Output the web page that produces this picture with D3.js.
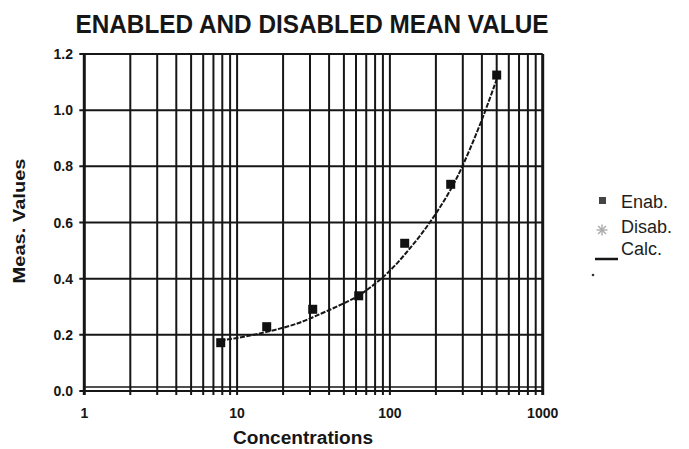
<!DOCTYPE html>
<html><head><meta charset="utf-8">
<script src="https://cdn.jsdelivr.net/npm/d3@7"></script>
<style>body{margin:0;background:#fff}svg{display:block}</style>
</head><body><svg id="c" width="689" height="449"></svg>
<script>
const enabConc = [7.8125, 15.625, 31.25, 62.5, 125, 250, 500];
const enabVals = [0.172, 0.229, 0.291, 0.339, 0.526, 0.736, 1.125];
const calcConc = [7.8, 10, 12.5, 15.6, 20, 25, 31.25, 40, 50, 62.5, 80, 100, 125, 160, 200, 250, 300, 400, 500];
const calcVals = [0.18, 0.188, 0.199, 0.21, 0.225, 0.24, 0.262, 0.288, 0.312, 0.338, 0.381, 0.426, 0.485, 0.556, 0.63, 0.715, 0.8, 0.962, 1.11];
const yTicks = [0, 0.2, 0.4, 0.6, 0.8, 1.0, 1.2];
const xLabelTicks = [1, 10, 100, 1000];
const legendLabels = ["Enab.", "Disab.", "Calc."];

const svg = d3.select("#c");
const x = d3.scaleLog().domain([1, 1000]).range([84.3, 542.7]);
const y = d3.scaleLinear().domain([0, 1.2]).range([391, 54]);
const ink = "#161616";

// vertical grid (1..9 per decade)
const vTicks = [];
for (let d = 1; d < 1000; d *= 10) for (let k = 1; k < 10; k++) vTicks.push(d * k);
vTicks.push(1000);
svg.append("g").selectAll("line").data(vTicks).join("line")
  .attr("x1", d => x(d)).attr("x2", d => x(d))
  .attr("y1", y(1.2)).attr("y2", y(0) + 4)
  .attr("stroke", ink).attr("stroke-width", d => (d === 1 || d === 1000) ? 3 : 2);

// horizontal grid
svg.append("g").selectAll("line").data(yTicks).join("line")
  .attr("x1", x(1) - 5).attr("x2", x(1000))
  .attr("y1", d => y(d)).attr("y2", d => y(d))
  .attr("stroke", ink).attr("stroke-width", 2);
svg.append("line").attr("x1", x(1)).attr("x2", x(1000))
  .attr("y1", y(0) - 4).attr("y2", y(0) - 4).attr("stroke", ink).attr("stroke-width", 1.6);

// y tick labels
svg.append("g").selectAll("text").data(yTicks).join("text")
  .attr("x", 73).attr("y", d => y(d) + 5).attr("text-anchor", "end")
  .attr("font-family", "Liberation Sans Narrow, Liberation Sans, Arial, sans-serif")
  .attr("font-weight", "bold").attr("font-size", 14).attr("fill", ink)
  .text(d => d3.format(".1f")(d));

// x tick labels
svg.append("g").selectAll("text").data(xLabelTicks).join("text")
  .attr("x", d => x(d)).attr("y", 418).attr("text-anchor", "middle")
  .attr("font-family", "Liberation Sans Narrow, Liberation Sans, Arial, sans-serif")
  .attr("font-weight", "bold").attr("font-size", 14).attr("fill", ink)
  .text(d => d);

// calc curve
svg.append("path").datum(calcConc.map((c, i) => [c, calcVals[i]]))
  .attr("d", d3.line().x(d => x(d[0])).y(d => y(d[1])).curve(d3.curveBasis))
  .attr("fill", "none").attr("stroke", ink).attr("stroke-width", 2)
  .attr("stroke-dasharray", "5,1.5");

// enab points
svg.append("g").selectAll("rect").data(enabConc.map((c, i) => [c, enabVals[i]])).join("rect")
  .attr("x", d => x(d[0]) - 4.5).attr("y", d => y(d[1]) - 4.5)
  .attr("width", 9).attr("height", 9).attr("fill", "#111");

// title
svg.append("text").attr("x", 312).attr("y", 33).attr("text-anchor", "middle")
  .attr("font-family", "Liberation Sans, Arial, sans-serif").attr("font-size", 26)
  .attr("font-weight", "bold")
  .attr("fill", ink).attr("textLength", 473).attr("lengthAdjust", "spacingAndGlyphs")
  .text("ENABLED AND DISABLED MEAN VALUE");

// axis titles
svg.append("text").attr("x", 303).attr("y", 444).attr("text-anchor", "middle")
  .attr("font-family", "Liberation Sans, Arial, sans-serif").attr("font-size", 18)
  .attr("font-weight", "bold").attr("fill", ink)
  .attr("textLength", 140).attr("lengthAdjust", "spacingAndGlyphs")
  .text("Concentrations");
svg.append("text").attr("transform", "translate(25,221) rotate(-90)").attr("text-anchor", "middle")
  .attr("font-family", "Liberation Sans, Arial, sans-serif").attr("font-size", 16)
  .attr("font-weight", "bold").attr("fill", ink)
  .attr("textLength", 125).attr("lengthAdjust", "spacingAndGlyphs")
  .text("Meas. Values");

// legend
const lg = svg.append("g");
const legY = [208, 233, 255];
lg.selectAll("text").data(legendLabels).join("text")
  .attr("x", 621).attr("y", (d, i) => legY[i])
  .attr("font-family", "Liberation Sans, Arial, sans-serif").attr("font-size", 18)
  .attr("fill", "#1e1e1e").text(d => d);
lg.append("rect").attr("x", 599).attr("y", 197).attr("width", 7).attr("height", 7).attr("fill", "#444");
const ast = lg.append("g").attr("transform", "translate(602,230)").attr("stroke", "#aaa").attr("stroke-width", 1.4);
[0, 45, 90, 135].forEach(a => {
  const r = a * Math.PI / 180;
  ast.append("line").attr("x1", -5.5 * Math.cos(r)).attr("y1", -5.5 * Math.sin(r))
    .attr("x2", 5.5 * Math.cos(r)).attr("y2", 5.5 * Math.sin(r));
});
lg.append("line").attr("x1", 595).attr("x2", 618).attr("y1", 259).attr("y2", 259)
  .attr("stroke", ink).attr("stroke-width", 2.5);
lg.append("circle").attr("cx", 593).attr("cy", 275).attr("r", 1.3).attr("fill", "#333");
</script></body></html>
